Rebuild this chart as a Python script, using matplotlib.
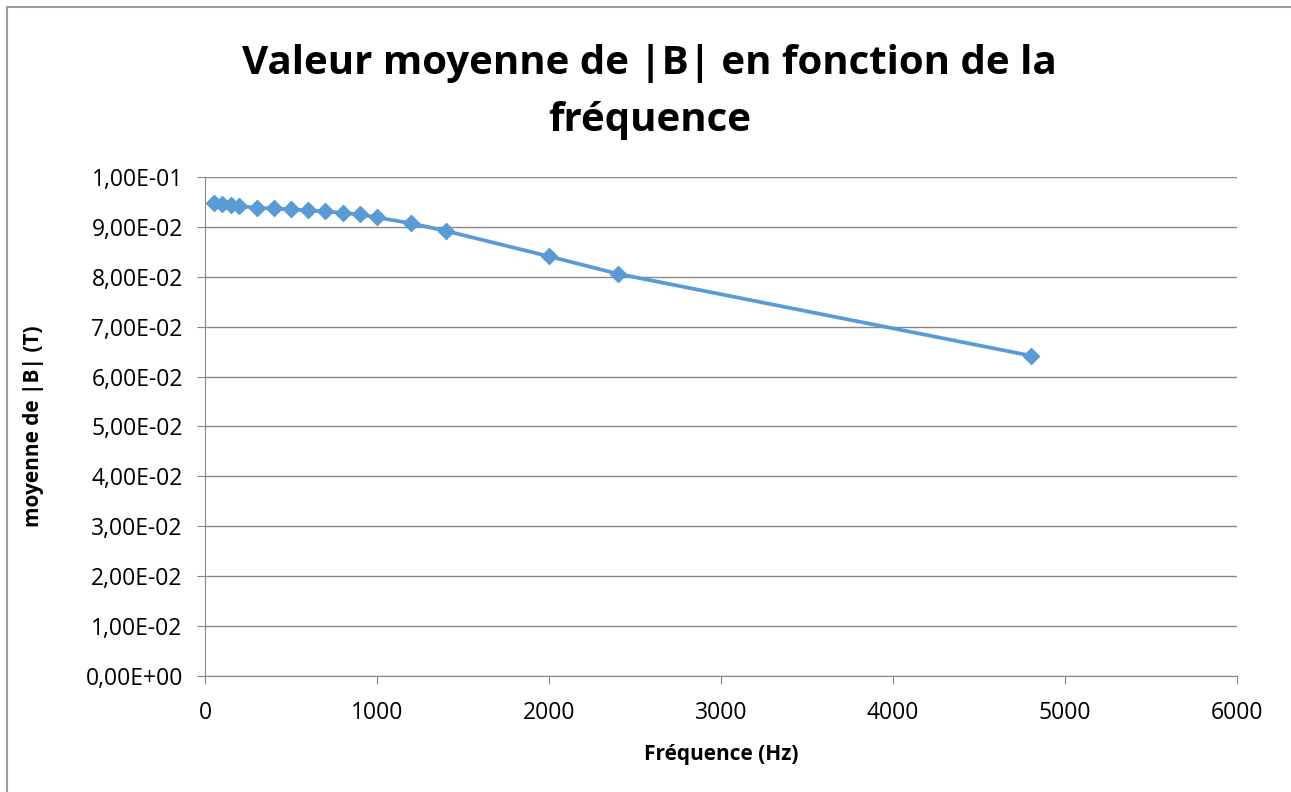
import matplotlib.pyplot as plt
from matplotlib.lines import Line2D
from matplotlib.ticker import FuncFormatter

# Donnees
frequence = [50, 100, 150, 200, 300, 400, 500, 600, 700, 800, 900, 1000,
             1200, 1400, 2000, 2400, 4800]
b_moyen = [0.0948, 0.0945, 0.0944, 0.0942, 0.0938, 0.0937, 0.0935, 0.0933,
           0.0931, 0.0928, 0.0925, 0.0919, 0.0907, 0.0892, 0.0841, 0.0806,
           0.0642]

plt.rcParams['font.family'] = ['Open Sans', 'DejaVu Sans']

fig = plt.figure(figsize=(12.91, 7.92), dpi=100)
ax = fig.add_axes([205 / 1291, 1 - 676 / 792, (1237 - 205) / 1291, (676 - 177) / 792])

ax.plot(frequence, b_moyen, color='#5B9BD5', linewidth=2.7, marker='D',
        markersize=8, zorder=3)

ax.set_xlim(0, 6000)
ax.set_ylim(0, 0.1)
ax.set_xticks(range(0, 6001, 1000))
ax.set_yticks([i / 100 for i in range(11)])


def format_sci(v, pos):
    s = "%.2E" % v
    mant, exp = s.split("E")
    return mant.replace(".", ",") + "E" + exp


ax.yaxis.set_major_formatter(FuncFormatter(format_sci))
ax.grid(axis='y', color='#888888', linewidth=1)
ax.set_axisbelow(True)
for side in ['top', 'right']:
    ax.spines[side].set_visible(False)
for side in ['left', 'bottom']:
    ax.spines[side].set_color('#888888')
ax.tick_params(axis='both', labelsize=16.5, colors='#888888', labelcolor='black',
               length=6, direction='out')
ax.tick_params(axis='x', pad=12)
ax.tick_params(axis='y', pad=10)

ax.set_xlabel("Fréquence (Hz)", fontsize=15, fontweight='bold', labelpad=14)
ax.set_ylabel("moyenne de |B| (T)", fontsize=15, fontweight='bold', labelpad=30)

fig.text(0.503, 0.884, "Valeur moyenne de |B| en fonction de la\nfréquence",
         ha='center', va='center', fontsize=29, fontweight='bold',
         linespacing=1.6)

# bordure du graphique (haut et gauche visibles)
fig.add_artist(Line2D([7 / 1291, 7 / 1291, 1], [0, 1 - 7 / 792, 1 - 7 / 792],
                      transform=fig.transFigure, color='#999999', linewidth=1.5))

fig.savefig("out.png", dpi=100)
